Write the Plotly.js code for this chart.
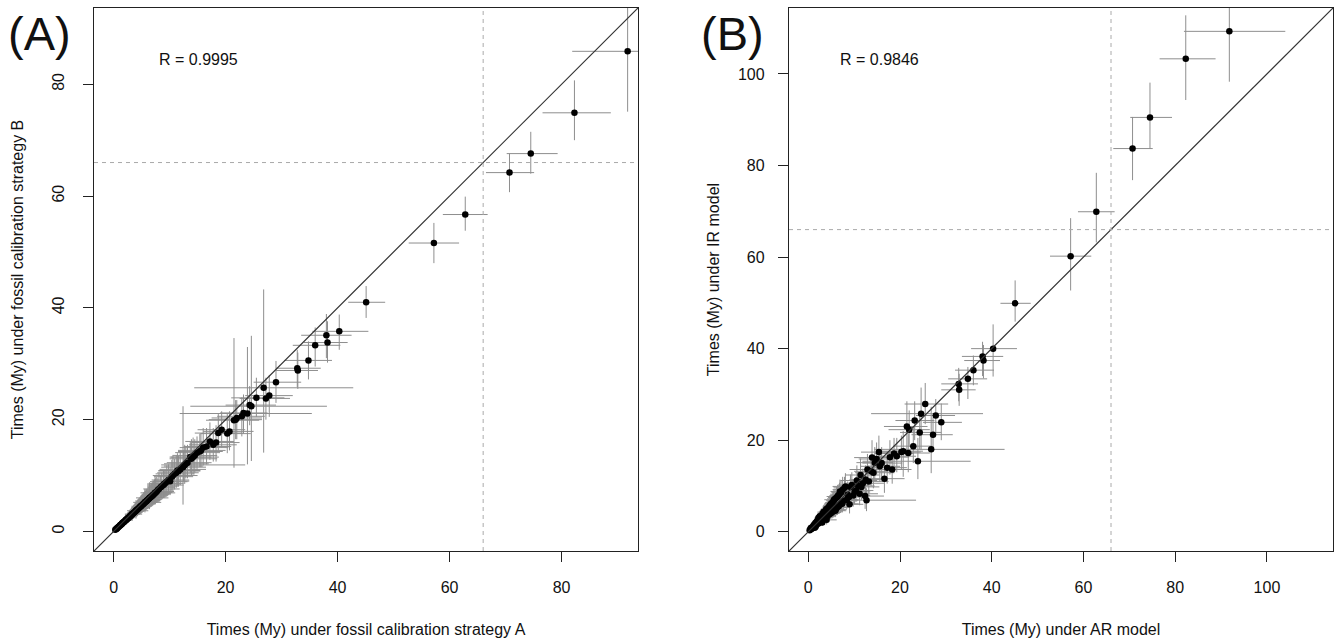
<!DOCTYPE html>
<html><head><meta charset="utf-8">
<script src="https://cdn.plot.ly/plotly-3.0.1.min.js"></script>
<style>html,body{margin:0;padding:0;background:#fff}#chart{width:1337px;height:640px}</style>
</head><body><div id="chart"></div>
<script>
// Node ages (My) under fossil calibration strategy A / AR model (shared x of both panels)
const timeA = [91.8, 82.3, 74.5, 70.7, 62.8, 57.2,
  45.1, 40.3, 38.0, 38.2, 36.0, 34.8, 32.8, 32.9, 29.0, 26.8, 27.8, 27.2, 25.5, 24.6,
  24.3, 23.9, 23.2, 22.9, 22.0, 21.5, 21.8, 20.7, 20.3, 19.3, 18.7, 17.8, 16.6, 15.4,
  14.9, 15.6, 14.5, 18.3, 13.7, 12.9, 12.5, 12.4, 11.6, 10.9, 12.7, 10.1, 9.2, 8.6, 7.9, 8.4,
  0.3, 0.45, 0.6, 0.7, 0.85, 0.95, 1.1, 1.2, 1.3, 1.45, 1.55, 1.7, 1.8, 1.95, 2.05, 2.2,
  2.3, 2.45, 2.6, 2.7, 2.85, 2.95, 3.1, 3.25, 3.35, 3.5, 3.6, 3.75, 3.9, 4.05, 4.15, 4.3,
  4.45, 4.6, 4.7, 4.85, 5.0, 5.15, 5.3, 5.4, 5.55, 5.7, 5.85, 6.0, 6.15, 6.3, 6.5, 6.65,
  6.8, 7.0, 7.15, 7.3, 7.5, 7.7, 3.05, 4.9, 5.9, 6.9, 2.5, 1.6,
  8.9, 9.5, 9.8, 10.4, 10.6, 11.2, 11.4, 11.9, 13.2, 13.9, 14.2, 16.0, 17.2, 6.4, 7.4, 8.1,
  4.0, 5.6, 3.3, 2.2, 1.4, 0.55, 9.0];
const timeA_lo = [81.9, 76.6, 70.2, 66.5, 58.8, 52.7,
  41.9, 35.5, 33.5, 34.0, 32.0, 30.5, 29.0, 29.0, 25.0, 14.4, 23.5, 22.5, 21.0, 13.7,
  20.0, 11.8, 19.0, 18.5, 17.5, 16.5, 17.0, 16.0, 15.5, 15.0, 14.5, 13.5, 12.5, 11.5,
  11.0, 11.5, 10.5, 14.0, 10.0, 9.0, 9.0, 8.5, 8.0, 7.5, 8.5, 7.0, 6.5, 6.0, 5.5, 6.0,
  0.15, 0.25, 0.35, 0.4, 0.5, 0.55, 0.7, 0.75, 0.8, 0.9, 1.0, 1.1, 1.15, 1.3, 1.35, 1.45,
  1.5, 1.6, 1.7, 1.8, 1.9, 2.0, 2.1, 2.2, 2.3, 2.4, 2.5, 2.6, 2.7, 2.8, 2.9, 3.0,
  3.1, 3.2, 3.3, 3.4, 3.5, 3.6, 3.7, 3.8, 3.9, 4.0, 4.1, 4.2, 4.3, 4.4, 4.6, 4.7,
  4.8, 4.95, 5.05, 5.2, 5.3, 5.5, 2.05, 3.45, 4.15, 4.85, 1.65, 1.05,
  6.0, 6.5, 6.8, 7.2, 7.0, 7.8, 8.0, 8.2, 9.5, 10.0, 10.2, 11.8, 12.8, 4.0, 4.8, 5.3,
  2.4, 3.5, 2.0, 1.3, 0.8, 0.3, 6.0];
const timeA_hi = [104.0, 88.8, 79.3, 75.1, 66.8, 61.7,
  48.5, 45.5, 42.5, 41.8, 40.5, 39.0, 37.0, 36.5, 33.5, 42.8, 32.0, 31.5, 30.5, 38.1,
  29.0, 35.4, 27.5, 27.0, 26.5, 26.0, 26.5, 25.0, 24.5, 23.5, 23.0, 22.0, 21.0, 19.5,
  19.0, 20.0, 18.5, 22.5, 17.5, 17.0, 16.0, 16.5, 15.5, 14.5, 23.5, 13.5, 12.5, 11.5, 10.5, 11.0,
  0.5, 0.7, 0.9, 1.05, 1.3, 1.4, 1.6, 1.75, 1.9, 2.1, 2.2, 2.4, 2.55, 2.75, 2.9, 3.1,
  3.2, 3.45, 3.7, 3.8, 4.0, 4.15, 4.35, 4.55, 4.7, 4.9, 5.0, 5.25, 5.45, 5.7, 5.8, 6.0,
  6.25, 6.45, 6.6, 6.8, 7.0, 7.2, 7.4, 7.55, 7.8, 8.0, 8.2, 8.4, 8.6, 8.8, 9.1, 9.3,
  9.5, 9.8, 10.0, 10.2, 10.5, 10.8, 4.3, 6.9, 8.3, 9.7, 3.55, 2.3,
  12.5, 13.2, 13.5, 14.2, 15.0, 15.2, 15.5, 16.5, 17.5, 18.5, 18.8, 20.5, 21.5, 9.8, 11.0, 11.8,
  6.2, 8.5, 5.1, 3.4, 2.2, 0.9, 12.0];

// Node ages (My) under fossil calibration strategy B (panel A y)
const timeB = [85.9, 74.9, 67.6, 64.2, 56.7, 51.6,
  41.0, 35.8, 35.1, 33.8, 33.3, 30.6, 29.2, 28.8, 26.7, 25.7, 24.3, 23.8, 23.9, 22.4,
  22.6, 21.1, 21.2, 20.6, 20.3, 19.9, 20.0, 17.9, 17.5, 18.2, 17.6, 15.5, 15.2, 14.3,
  14.1, 14.5, 13.6, 15.9, 13.3, 12.1, 11.7, 11.5, 10.8, 10.3, 11.9, 9.0, 8.6, 8.1, 7.4, 7.9,
  0.28, 0.42, 0.56, 0.65, 0.8, 0.88, 1.02, 1.13, 1.2, 1.35, 1.45, 1.58, 1.68, 1.8, 1.92, 2.05,
  2.12, 2.28, 2.42, 2.5, 2.65, 2.75, 2.88, 3.02, 3.1, 3.25, 3.36, 3.48, 3.62, 3.78, 3.85, 4.0,
  4.12, 4.28, 4.36, 4.5, 4.66, 4.78, 4.92, 5.0, 5.18, 5.3, 5.42, 5.6, 5.7, 5.85, 6.05, 6.18,
  6.3, 6.52, 6.62, 6.8, 6.95, 7.15, 2.8, 4.55, 5.5, 6.4, 2.32, 1.49,
  8.3, 8.9, 9.2, 9.8, 10.0, 10.5, 10.9, 11.1, 12.3, 13.0, 13.3, 15.0, 16.1, 6.0, 6.9, 7.6,
  3.7, 5.2, 3.1, 2.06, 1.3, 0.5, 8.5];
const timeB_lo = [75.1, 70.0, 64.0, 60.7, 53.8, 48.0,
  38.2, 32.5, 31.0, 30.2, 29.5, 27.2, 25.8, 25.5, 23.0, 14.1, 20.5, 20.0, 20.5, 12.6,
  19.0, 12.0, 17.5, 17.0, 16.5, 11.4, 16.5, 14.5, 14.0, 15.0, 14.5, 12.5, 12.0, 11.5,
  11.0, 11.5, 10.5, 12.5, 10.5, 9.5, 9.0, 4.8, 8.0, 7.5, 8.5, 6.5, 6.5, 6.0, 5.5, 6.0,
  0.15, 0.25, 0.35, 0.4, 0.5, 0.55, 0.65, 0.7, 0.75, 0.85, 0.95, 1.0, 1.1, 1.2, 1.3, 1.4,
  1.45, 1.55, 1.65, 1.7, 1.8, 1.9, 2.0, 2.1, 2.15, 2.3, 2.4, 2.45, 2.55, 2.7, 2.75, 2.85,
  2.95, 3.05, 3.1, 3.2, 3.35, 3.45, 3.55, 3.6, 3.75, 3.85, 3.95, 4.1, 4.15, 4.3, 4.45, 4.55,
  4.65, 4.8, 4.9, 5.0, 5.15, 5.3, 1.95, 3.25, 4.0, 4.7, 1.6, 1.0,
  6.0, 6.5, 6.8, 7.3, 7.0, 7.8, 8.2, 8.3, 9.5, 10.0, 10.2, 11.8, 12.8, 4.0, 4.8, 5.4,
  2.3, 3.4, 1.9, 1.25, 0.8, 0.3, 6.2];
const timeB_hi = [97.0, 80.7, 71.5, 67.6, 59.9, 55.2,
  43.9, 38.8, 38.9, 37.6, 36.5, 34.0, 32.5, 32.0, 30.5, 43.3, 28.0, 27.5, 27.5, 35.0,
  26.0, 33.0, 24.5, 24.0, 23.5, 34.6, 23.5, 21.5, 21.0, 21.5, 21.0, 18.5, 18.5, 17.5,
  17.0, 17.5, 16.5, 19.0, 16.0, 15.0, 14.5, 22.4, 13.5, 13.0, 15.5, 11.5, 11.0, 10.5, 9.5, 10.0,
  0.45, 0.65, 0.85, 0.95, 1.2, 1.3, 1.5, 1.6, 1.75, 1.95, 2.1, 2.25, 2.4, 2.55, 2.7, 2.9,
  3.0, 3.2, 3.4, 3.5, 3.7, 3.85, 4.0, 4.2, 4.3, 4.5, 4.65, 4.8, 5.0, 5.2, 5.3, 5.5,
  5.65, 5.85, 6.0, 6.2, 6.4, 6.55, 6.75, 6.85, 7.1, 7.25, 7.45, 7.7, 7.8, 8.0, 8.3, 8.45,
  8.6, 8.9, 9.05, 9.3, 9.5, 9.75, 3.9, 6.25, 7.55, 8.75, 3.25, 2.15,
  11.0, 11.8, 12.0, 12.8, 13.5, 13.6, 14.0, 14.5, 15.5, 16.5, 16.8, 18.5, 19.5, 8.8, 9.8, 10.4,
  5.6, 7.6, 4.6, 3.1, 2.0, 0.8, 11.0];

// Node ages (My) under IR model (panel B y)
const timeIR = [109.3, 103.3, 90.5, 83.7, 69.9, 60.2,
  49.9, 40.0, 38.3, 37.4, 35.3, 33.4, 32.3, 31.0, 23.9, 18.0, 25.4, 21.2, 27.9, 25.8,
  21.7, 15.4, 24.3, 18.7, 22.3, 23.0, 17.2, 17.6, 17.4, 16.5, 17.1, 16.3, 11.6, 17.4,
  15.9, 14.3, 15.1, 13.6, 13.2, 13.6, 11.4, 7.8, 9.8, 10.0, 6.9, 8.7, 9.8, 8.1, 9.6, 7.0,
  0.35, 0.5, 0.7, 0.6, 1.0, 0.8, 1.3, 1.0, 1.6, 1.2, 1.9, 1.4, 2.2, 1.7, 2.5, 1.8,
  2.8, 2.0, 3.2, 2.3, 3.5, 2.4, 3.9, 2.7, 4.1, 2.9, 4.4, 3.1, 4.9, 3.3, 5.1, 3.6,
  5.4, 3.8, 5.8, 4.0, 6.2, 4.2, 6.4, 4.5, 6.8, 4.7, 7.2, 4.9, 7.5, 5.3, 7.9, 5.6,
  8.2, 6.0, 8.6, 6.3, 9.2, 6.8, 2.0, 5.9, 4.6, 8.8, 3.4, 1.1,
  7.6, 10.2, 7.9, 9.0, 11.2, 8.3, 12.4, 10.6, 11.0, 16.2, 12.9, 15.0, 14.0, 7.7, 6.1, 9.9,
  2.6, 7.0, 4.3, 3.0, 0.9, 0.8, 6.0];
const timeIR_lo = [98.3, 94.3, 83.7, 76.8, 63.2, 52.7,
  45.9, 33.9, 34.0, 33.5, 32.0, 29.0, 28.5, 27.5, 20.0, 12.8, 21.5, 17.5, 23.5, 18.0,
  18.0, 11.5, 20.0, 15.0, 18.5, 17.0, 13.0, 12.0, 13.5, 13.0, 13.5, 12.5, 8.5, 13.5,
  12.5, 11.0, 11.5, 10.5, 10.0, 10.0, 8.5, 5.0, 7.0, 7.5, 4.5, 6.0, 7.0, 5.5, 7.0, 5.0,
  0.15, 0.25, 0.4, 0.3, 0.6, 0.45, 0.8, 0.6, 1.0, 0.7, 1.2, 0.9, 1.4, 1.1, 1.6, 1.1,
  1.9, 1.3, 2.1, 1.5, 2.4, 1.6, 2.7, 1.8, 2.9, 1.9, 3.1, 2.1, 3.5, 2.2, 3.6, 2.5,
  3.9, 2.6, 4.1, 2.8, 4.4, 2.9, 4.6, 3.1, 4.9, 3.3, 5.2, 3.4, 5.5, 3.7, 5.8, 3.9,
  6.0, 4.2, 6.3, 4.4, 6.8, 4.8, 1.3, 4.2, 3.2, 6.4, 2.3, 0.7,
  5.2, 7.5, 5.5, 6.5, 8.0, 5.8, 9.0, 7.5, 8.0, 12.5, 9.5, 11.5, 10.5, 5.4, 4.2, 7.2,
  1.6, 5.0, 3.0, 2.0, 0.5, 0.45, 4.0];
const timeIR_hi = [119.0, 112.8, 98.1, 90.6, 78.4, 68.5,
  54.9, 45.3, 41.5, 40.8, 38.5, 36.0, 35.8, 34.5, 28.0, 27.3, 29.0, 25.0, 32.5, 31.5,
  25.5, 20.5, 28.5, 23.0, 26.5, 28.5, 21.5, 22.0, 21.0, 20.5, 20.5, 20.0, 15.0, 21.0,
  19.5, 18.0, 18.5, 17.0, 16.5, 17.0, 14.5, 11.0, 12.5, 13.0, 9.5, 11.5, 12.5, 11.0, 12.0, 9.5,
  0.6, 0.85, 1.1, 1.0, 1.5, 1.25, 1.9, 1.5, 2.3, 1.8, 2.7, 2.0, 3.1, 2.4, 3.4, 2.6,
  3.8, 2.9, 4.3, 3.2, 4.7, 3.4, 5.2, 3.8, 5.5, 4.0, 5.8, 4.3, 6.4, 4.6, 6.7, 4.9,
  7.1, 5.2, 7.6, 5.5, 8.1, 5.7, 8.4, 6.1, 8.9, 6.4, 9.4, 6.7, 9.8, 7.2, 10.3, 7.6,
  10.7, 8.1, 11.2, 8.5, 12.0, 9.2, 2.9, 7.8, 6.3, 11.4, 4.6, 1.6,
  10.5, 13.0, 10.8, 12.0, 14.5, 11.2, 16.0, 13.8, 14.5, 20.0, 16.5, 18.5, 17.5, 10.2, 8.4, 12.8,
  3.8, 9.2, 5.8, 4.2, 1.4, 1.2, 8.2];

// Text and reference values
const panelLabels = ['(A)', '(B)'];
const corrLabels = ['R = 0.9995', 'R = 0.9846'];
const xTitles = ['Times (My) under fossil calibration strategy A', 'Times (My) under AR model'];
const yTitles = ['Times (My) under fossil calibration strategy B', 'Times (My) under IR model'];
const referenceAge = [66];
const tickValsA = [0, 20, 40, 60, 80];
const tickValsB = [0, 20, 40, 60, 80, 100];

// ---- drawing ----
const FONT = 'Liberation Sans, Arial, Helvetica, sans-serif';
const rangeA = [-3.5, 93.65];
const rangeB = [-4.2, 114.4];
const BAR = '#8e8e8e';

function errs(c, lo, hi) {
  return {type: 'data', symmetric: false,
    array: hi.map((h, i) => h - c[i]),
    arrayminus: c.map((v, i) => v - lo[i]),
    color: BAR, thickness: 1, width: 0};
}

const traces = [
  {type: 'scatter', mode: 'markers', x: timeA, y: timeB, xaxis: 'x', yaxis: 'y',
   marker: {color: '#000', size: 6.5}, error_x: errs(timeA, timeA_lo, timeA_hi),
   error_y: errs(timeB, timeB_lo, timeB_hi), hoverinfo: 'x+y'},
  {type: 'scatter', mode: 'markers', x: timeA, y: timeIR, xaxis: 'x2', yaxis: 'y2',
   marker: {color: '#000', size: 6.5}, error_x: errs(timeA, timeA_lo, timeA_hi),
   error_y: errs(timeIR, timeIR_lo, timeIR_hi), hoverinfo: 'x+y'}
];

function axis(extra) {
  return Object.assign({
    showgrid: false, zeroline: false, showline: true, mirror: true,
    linecolor: '#222', linewidth: 1.2, ticks: 'outside', ticklen: 10, tickwidth: 1,
    tickcolor: '#222', tickfont: {family: FONT, size: 16, color: '#111'},
    tickmode: 'array', automargin: false, fixedrange: true
  }, extra);
}

const yDom = [1 - 551 / 640, 1 - 8 / 640];
const layout = {
  width: 1337, height: 640, margin: {l: 0, r: 0, t: 0, b: 0},
  paper_bgcolor: '#fff', plot_bgcolor: '#fff', showlegend: false,
  font: {family: FONT, color: '#111'},
  xaxis: axis({domain: [94 / 1337, 638 / 1337], range: rangeA, tickvals: tickValsA,
    ticklabelstandoff: 12,
    title: {text: xTitles[0], font: {size: 16, family: FONT}, standoff: 28}}),
  yaxis: axis({domain: yDom, range: rangeA, tickvals: tickValsA, tickangle: -90,
    ticklabelstandoff: 12,
    title: {text: yTitles[0], font: {size: 16, family: FONT}, standoff: 22}}),
  xaxis2: axis({domain: [789 / 1337, 1333 / 1337], range: rangeB, tickvals: tickValsB,
    ticklabelstandoff: 12, anchor: 'y2',
    title: {text: xTitles[1], font: {size: 16, family: FONT}, standoff: 28}}),
  yaxis2: axis({domain: yDom, range: rangeB, tickvals: tickValsB, anchor: 'x2',
    ticklabelstandoff: 10,
    title: {text: yTitles[1], font: {size: 16, family: FONT}, standoff: 14}}),
  shapes: [
    {type: 'line', xref: 'x', yref: 'y', x0: rangeA[0], y0: rangeA[0], x1: rangeA[1], y1: rangeA[1],
     line: {color: '#333', width: 1.2}},
    {type: 'line', xref: 'x', yref: 'y', x0: referenceAge[0], x1: referenceAge[0], y0: rangeA[0], y1: rangeA[1],
     line: {color: '#aaa', width: 1, dash: '4px,4px'}},
    {type: 'line', xref: 'x', yref: 'y', y0: referenceAge[0], y1: referenceAge[0], x0: rangeA[0], x1: rangeA[1],
     line: {color: '#aaa', width: 1, dash: '4px,4px'}},
    {type: 'line', xref: 'x2', yref: 'y2', x0: rangeB[0], y0: rangeB[0], x1: rangeB[1], y1: rangeB[1],
     line: {color: '#333', width: 1.2}},
    {type: 'line', xref: 'x2', yref: 'y2', x0: referenceAge[0], x1: referenceAge[0], y0: rangeB[0], y1: rangeB[1],
     line: {color: '#aaa', width: 1, dash: '4px,4px'}},
    {type: 'line', xref: 'x2', yref: 'y2', y0: referenceAge[0], y1: referenceAge[0], x0: rangeB[0], x1: rangeB[1],
     line: {color: '#aaa', width: 1, dash: '4px,4px'}}
  ],
  annotations: [
    {xref: 'paper', yref: 'paper', x: 6 / 1337, y: 1 - 34 / 640, xanchor: 'left', yanchor: 'middle',
     text: panelLabels[0], showarrow: false, font: {family: FONT, size: 47, color: '#111'}},
    {xref: 'paper', yref: 'paper', x: 699 / 1337, y: 1 - 34 / 640, xanchor: 'left', yanchor: 'middle',
     text: panelLabels[1], showarrow: false, font: {family: FONT, size: 47, color: '#111'}},
    {xref: 'x', yref: 'y', x: 7.8, y: 84.5, xanchor: 'left', yanchor: 'middle',
     text: corrLabels[0], showarrow: false, font: {family: FONT, size: 16, color: '#111'}},
    {xref: 'x2', yref: 'y2', x: 6.5, y: 103.2, xanchor: 'left', yanchor: 'middle',
     text: corrLabels[1], showarrow: false, font: {family: FONT, size: 16, color: '#111'}}
  ]
};

Plotly.newPlot('chart', traces, layout, {staticPlot: true, displayModeBar: false});
</script></body></html>
